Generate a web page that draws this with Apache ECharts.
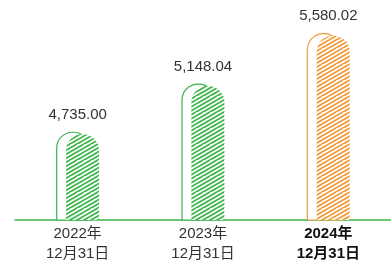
<!DOCTYPE html>
<html>
<head>
<meta charset="utf-8">
<script src="https://cdn.jsdelivr.net/npm/echarts@6/dist/echarts.min.js"></script>
<style>
html,body{margin:0;padding:0;background:#fff;}
#c{width:391px;height:264px;}
</style>
</head>
<body>
<div id="c"></div>
<script>
const categories = ['2022年\n12月31日', '2023年\n12月31日', '2024年\n12月31日'];
const values = [4735.00, 5148.04, 5580.02];
const valueLabels = ['4,735.00', '5,148.04', '5,580.02'];

const GREEN = '#3db54a';
const ORANGE = '#f39b3a';
const FONT = '"Liberation Sans", Arial, "Noto Sans CJK SC", sans-serif';

function makePattern(color) {
  const w = 7, h = 4, n = 4;
  const cv = document.createElement('canvas');
  cv.width = w * n; cv.height = h * n;
  const ctx = cv.getContext('2d');
  ctx.fillStyle = '#fff';
  ctx.fillRect(0, 0, cv.width, cv.height);
  ctx.strokeStyle = color;
  ctx.lineWidth = 1.8;
  for (let i = -1; i <= 2 * n + 1; i++) {
    ctx.beginPath();
    ctx.moveTo(0, i * h);
    ctx.lineTo(i * w, 0);
    ctx.stroke();
  }
  return { image: cv, repeat: 'repeat' };
}
const patterns = [makePattern(GREEN), makePattern(GREEN), makePattern(ORANGE)];
const lineColors = [GREEN, GREEN, ORANGE];

const chart = echarts.init(document.getElementById('c'));
chart.setOption({
  animation: false,
  grid: { left: 15, right: -7, top: 10, bottom: 44 },
  xAxis: {
    type: 'category',
    data: categories.map((c, i) => i === 2
      ? { value: c, textStyle: { fontWeight: 'bold', color: '#111' } }
      : c),
    axisLine: { lineStyle: { color: GREEN, width: 1.5 } },
    axisTick: { show: false },
    axisLabel: { color: '#333', fontSize: 15, lineHeight: 20, margin: 4, fontFamily: FONT }
  },
  yAxis: { type: 'value', min: 4000, max: 5800, show: false, splitLine: { show: false } },
  series: [{
    type: 'custom',
    data: values.map((v, i) => [i, v]),
    renderItem: function (params, api) {
      const i = api.value(0);
      const top = api.coord([i, api.value(1)]);
      const base = api.coord([i, 4000]);
      const cx = top[0];
      const bw = 33;
      const off = 9.4;
      const r = 16;
      const h = base[1] - top[1];
      return {
        type: 'group',
        children: [
          { type: 'rect', shape: { x: cx - 21, y: top[1] - 2, width: bw, height: h + 2, r: [r, r, 0, 0] },
            style: { fill: '#fff', stroke: lineColors[i], lineWidth: 1.2 } },
          { type: 'rect', shape: { x: cx - 21 + off, y: top[1], width: bw, height: h, r: [r, r, 0, 0] },
            style: { fill: patterns[i], stroke: null } },
          { type: 'text', x: cx, y: top[1] - 12,
            style: { text: valueLabels[i], align: 'center', verticalAlign: 'bottom',
                     fill: '#333', font: '15px ' + FONT } }
        ]
      };
    }
  }]
});
</script>
</body>
</html>
